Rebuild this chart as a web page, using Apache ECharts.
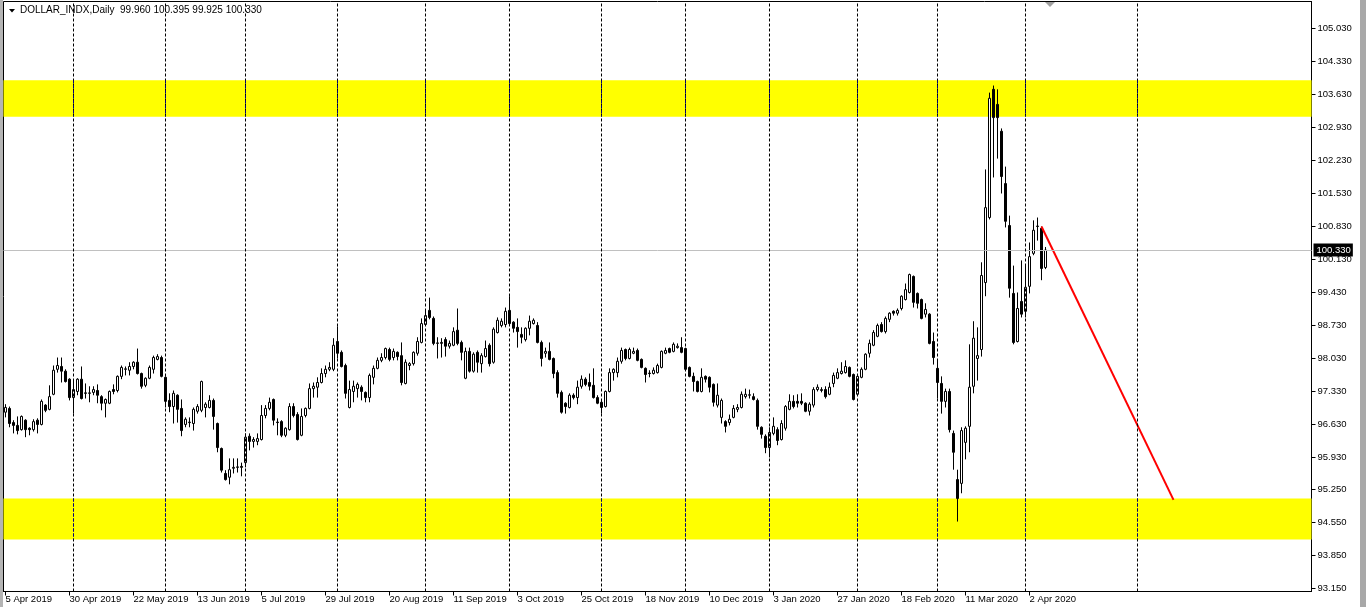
<!DOCTYPE html>
<html><head><meta charset="utf-8">
<script src="https://cdn.jsdelivr.net/npm/echarts@6/dist/echarts.min.js"></script>
<style>html,body{margin:0;padding:0;background:#fff}#c{width:1366px;height:607px}</style>
</head><body><div id="c"></div>
<script>
// ---- data ----
const symbolName = 'DOLLAR_INDX,Daily';
const dateLabels = ['5 Apr 2019','30 Apr 2019','22 May 2019','13 Jun 2019','5 Jul 2019','29 Jul 2019','20 Aug 2019','11 Sep 2019','3 Oct 2019','25 Oct 2019','18 Nov 2019','10 Dec 2019','3 Jan 2020','27 Jan 2020','18 Feb 2020','11 Mar 2020','2 Apr 2020'];
const yTicks = [93.15,93.85,94.55,95.25,95.93,96.63,97.33,98.03,98.73,99.43,100.13,100.83,101.53,102.23,102.93,103.63,104.33,105.03];
const monthStarts = [17,40,60,83,105,126,149,170,191,213,233,255,283];
const zones = [[103.93,103.16],[95.06,94.19]];
const trend = [[259,100.83],[292,95.03]];
const bid = 100.33;

const open = [
96.89,96.97,96.67,96.61,96.52,96.72,96.55,96.52,96.72,96.63,
97.04,96.95,97.27,97.80,97.86,97.76,97.59,97.20,97.33,97.59,
97.30,97.29,97.31,97.35,97.22,97.08,97.08,97.37,97.35,97.65,
97.80,97.78,97.86,97.95,97.71,97.46,97.61,97.80,98.01,98.05,
97.63,97.14,97.01,97.25,96.97,96.63,96.67,96.65,96.91,96.93,
96.99,96.99,97.14,96.65,96.12,95.59,95.51,95.70,95.72,95.74,
95.82,96.38,96.27,96.27,96.31,96.82,96.97,97.16,96.68,96.69,
96.40,96.52,97.01,96.84,96.40,96.82,96.97,97.39,97.42,97.52,
97.71,97.80,97.80,98.39,98.16,97.88,96.99,97.33,97.39,97.42,
97.31,97.20,97.63,97.82,97.99,98.05,98.22,98.05,98.16,98.09,
97.50,97.88,97.92,98.14,98.37,98.75,99.05,98.88,98.35,98.35,
98.43,98.29,98.31,98.63,98.37,97.61,98.18,97.76,98.16,97.92,
98.07,98.31,97.95,98.58,98.73,98.75,99.05,98.80,98.69,98.54,
98.43,98.67,98.77,98.73,98.37,98.14,98.18,98.03,97.73,97.31,
97.08,96.99,97.25,97.20,97.44,97.59,97.52,97.46,97.20,97.10,
97.01,97.33,97.73,97.73,97.97,98.22,98.03,98.14,98.20,98.01,
97.82,97.72,97.71,97.73,97.84,98.14,98.24,98.18,98.26,98.26,
98.24,97.84,97.65,97.54,97.33,97.65,97.63,97.48,97.04,96.78,
96.69,96.67,96.78,96.95,96.99,97.22,97.25,97.22,97.14,96.57,
96.38,96.14,96.44,96.52,96.31,96.55,96.95,97.12,97.12,97.12,
97.08,96.91,97.04,97.37,97.35,97.37,97.27,97.50,97.61,97.71,
97.73,97.84,97.69,97.27,97.63,97.80,98.14,98.31,98.50,98.75,
98.60,98.86,99.03,98.99,99.09,99.28,99.43,99.77,99.41,99.28,
98.97,98.97,98.39,97.82,97.50,97.12,97.33,96.44,95.46,95.38,
96.25,96.59,97.44,98.03,98.22,99.64,101.02,103.74,103.42,102.85,
101.74,100.85,99.41,98.39,99.24,99.03,99.56,100.26,100.83,100.79,
99.96];
const high = [
97.06,97.01,96.72,96.80,96.82,96.74,96.57,96.74,96.76,97.16,
97.06,97.46,97.88,98.05,98.05,97.80,97.61,97.56,97.61,97.86,
97.50,97.44,97.44,97.48,97.25,97.18,97.35,97.48,97.67,97.88,
97.86,97.95,97.97,98.24,97.73,97.63,97.88,98.09,98.12,98.09,
97.65,97.29,97.35,97.27,97.16,96.78,96.78,96.99,97.06,97.56,
97.10,97.25,97.18,96.67,96.14,95.66,95.91,95.91,95.91,95.82,
96.44,96.44,96.36,96.44,97.04,97.04,97.20,97.18,96.76,96.72,
96.57,97.08,97.08,96.89,96.97,96.99,97.50,97.52,97.63,97.82,
97.88,97.95,98.46,98.71,98.20,97.92,97.56,97.56,97.52,97.46,
97.33,97.71,97.88,98.05,98.14,98.26,98.26,98.24,98.18,98.37,
98.01,97.95,98.18,98.48,98.88,99.07,99.32,98.92,98.48,98.46,
98.48,98.41,98.69,99.09,98.41,98.26,98.26,98.16,98.20,98.14,
98.41,98.35,98.69,98.90,98.88,99.11,99.35,98.82,98.88,98.69,
98.69,98.94,98.88,98.80,98.41,98.26,98.37,98.05,97.78,97.35,
97.10,97.29,97.29,97.56,97.67,97.63,97.71,97.82,97.25,97.14,
97.35,97.82,97.82,98.05,98.26,98.24,98.26,98.26,98.24,98.03,
97.84,97.78,97.84,97.92,98.20,98.26,98.26,98.37,98.35,98.48,
98.26,97.86,97.73,97.56,97.82,97.67,97.65,97.50,97.50,97.18,
96.72,96.84,97.04,97.06,97.33,97.39,97.37,97.29,97.18,96.59,
96.42,96.57,96.78,96.57,96.72,97.04,97.27,97.25,97.27,97.29,
97.10,97.10,97.42,97.48,97.42,97.44,97.52,97.73,97.82,97.95,
97.99,97.86,97.71,97.67,97.84,98.14,98.43,98.63,98.77,98.80,
98.92,99.01,99.05,99.09,99.37,99.62,99.83,99.79,99.43,99.30,
99.20,98.99,98.58,97.99,97.65,97.39,97.39,96.50,95.67,96.57,
96.59,98.33,98.82,98.69,100.07,102.04,103.67,103.82,103.74,102.91,
102.10,101.06,100.00,99.43,100.11,100.00,100.49,100.96,101.02,100.83,
100.395];
const low = [
96.78,96.57,96.44,96.42,96.50,96.36,96.40,96.48,96.44,96.61,
96.89,96.93,97.25,97.73,97.52,97.52,97.14,96.86,97.25,97.16,
97.18,97.10,97.25,97.08,96.93,96.78,97.06,97.27,97.31,97.59,
97.67,97.67,97.80,97.69,97.39,97.42,97.59,97.71,97.99,97.63,
96.99,96.89,96.65,96.67,96.38,96.57,96.57,96.50,96.86,96.89,
96.78,96.97,96.52,96.04,95.61,95.44,95.36,95.59,95.61,95.53,
95.72,96.08,96.14,96.19,96.29,96.76,96.93,96.61,96.40,96.36,
96.36,96.50,96.78,96.29,96.38,96.78,96.95,97.20,97.20,97.50,
97.63,97.76,97.76,98.03,97.84,97.18,96.97,97.10,97.20,97.14,
97.10,97.10,97.48,97.80,97.95,98.01,97.97,97.99,97.99,97.46,
97.48,97.78,97.88,98.09,98.35,98.73,98.86,98.31,98.03,98.05,
98.07,98.24,98.29,98.31,97.99,97.59,97.73,97.73,97.73,97.73,
98.05,97.86,97.92,98.56,98.69,98.69,98.75,98.58,98.26,98.35,
98.39,98.52,98.75,98.35,97.86,98.05,97.99,97.61,97.20,96.86,
96.86,96.97,97.16,97.06,97.39,97.44,97.35,97.18,97.06,96.86,
96.99,97.31,97.56,97.63,97.92,97.99,98.01,98.12,97.97,97.82,
97.52,97.63,97.69,97.71,97.82,98.12,98.14,98.16,98.24,98.14,
97.78,97.63,97.33,97.31,97.31,97.52,97.31,97.01,96.99,96.65,
96.46,96.61,96.76,96.89,96.97,97.18,97.18,97.14,96.52,96.33,
96.02,95.93,96.40,96.19,96.29,96.50,96.93,96.97,96.99,97.04,
96.89,96.82,96.99,97.33,97.31,97.18,97.25,97.42,97.59,97.69,
97.71,97.63,97.14,97.25,97.61,97.78,98.05,98.29,98.48,98.58,
98.56,98.80,98.94,98.94,99.05,99.26,99.41,99.11,99.09,98.86,
98.90,98.33,97.90,97.18,96.86,96.99,96.46,95.67,94.57,95.17,
95.89,96.04,97.29,97.56,98.07,99.35,100.98,101.87,102.27,101.53,
100.81,99.32,98.33,98.37,98.90,98.90,99.41,100.22,100.53,99.69,
99.925];
const close = [
96.99,96.65,96.61,96.50,96.80,96.52,96.52,96.69,96.63,97.12,
96.93,97.22,97.78,97.88,97.76,97.54,97.20,97.37,97.59,97.18,
97.29,97.30,97.37,97.25,97.08,97.16,97.33,97.33,97.65,97.84,
97.81,97.86,97.95,97.71,97.44,97.61,97.84,98.05,98.07,97.65,
97.12,97.01,97.29,96.95,96.50,96.74,96.68,96.95,97.01,97.54,
97.06,97.14,96.80,96.14,95.66,95.46,95.67,95.72,95.73,95.72,
96.36,96.27,96.31,96.33,96.82,96.97,97.10,96.72,96.67,96.40,
96.55,97.01,96.82,96.31,96.80,96.97,97.39,97.44,97.52,97.71,
97.80,97.84,98.31,98.14,97.86,97.29,97.37,97.44,97.48,97.33,
97.20,97.67,97.82,97.99,98.05,98.24,98.01,98.18,98.07,97.52,
97.95,97.92,98.16,98.39,98.77,98.94,98.90,98.35,98.36,98.37,
98.29,98.35,98.60,98.35,98.16,98.18,97.76,98.12,97.95,98.09,
98.24,97.92,98.65,98.84,98.82,99.03,98.77,98.67,98.60,98.48,
98.67,98.82,98.84,98.37,98.03,98.18,98.01,97.71,97.29,96.89,
97.01,97.25,97.20,97.42,97.59,97.48,97.44,97.20,97.08,96.99,
97.33,97.73,97.80,97.97,98.20,98.03,98.22,98.18,97.99,97.84,
97.69,97.71,97.78,97.88,98.18,98.20,98.16,98.33,98.29,98.16,
97.80,97.65,97.54,97.33,97.63,97.59,97.42,97.10,97.25,97.14,
96.59,96.74,96.97,96.99,97.27,97.27,97.26,97.16,96.59,96.42,
96.14,96.46,96.59,96.29,96.65,97.01,97.12,97.01,97.08,97.08,
96.91,97.06,97.37,97.42,97.37,97.22,97.42,97.67,97.73,97.76,
97.86,97.65,97.16,97.65,97.80,98.12,98.35,98.58,98.73,98.60,
98.88,98.99,98.99,99.05,99.35,99.49,99.81,99.22,99.20,98.88,
99.07,98.35,98.05,97.52,97.12,97.33,96.52,96.04,95.06,96.50,
96.55,97.42,98.46,98.09,99.79,101.23,103.55,103.14,103.14,101.89,
100.94,99.52,98.37,99.09,98.97,99.54,100.19,100.75,100.84,99.94,
100.33];

// ---- build chart ----
const SLOTS = 327; // bars incl. right shift space
const cats = Array.from({length: SLOTS}, (_, i) => String(i));
const ohlc = open.map((o, i) => [o, close[i], low[i], high[i]]);
const last = open.length - 1;
const header = symbolName + '  ' + [open[last], high[last], low[last], close[last]].map(v => v.toFixed(3)).join(' ');
const isLabelIdx = i => i % 16 === 0 && i / 16 < dateLabels.length;

const bandLines = [];
zones.forEach(z => monthStarts.forEach(m => bandLines.push([{coord: [String(m), z[0]]}, {coord: [String(m), z[1]]}])));

const chart = echarts.init(document.getElementById('c'), null, {renderer: 'canvas'});
chart.setOption({
  animation: false,
  backgroundColor: '#ffffff',
  textStyle: {fontFamily: 'Liberation Sans'},
  grid: {left: 3.5, top: 1.5, width: 1308, height: 590, show: true, borderColor: '#000', borderWidth: 1, backgroundColor: 'transparent'},
  xAxis: {
    type: 'category', data: cats, boundaryGap: true,
    axisLine: {show: true, lineStyle: {color: '#000', width: 1}},
    axisTick: {show: true, alignWithLabel: true, length: 4, interval: (i) => isLabelIdx(i), lineStyle: {color: '#000'}},
    axisLabel: {show: true, interval: (i) => isLabelIdx(i), formatter: (v) => dateLabels[Number(v) / 16] || '',
      align: 'left', margin: 3, color: '#000', fontSize: 9.5, fontFamily: 'Liberation Sans'},
    splitLine: {show: false}
  },
  yAxis: {
    type: 'value', position: 'right', min: 93.086, max: 105.603,
    axisLine: {show: true, lineStyle: {color: '#000', width: 1}},
    axisTick: {show: true, customValues: yTicks, length: 4, lineStyle: {color: '#000'}},
    axisLabel: {show: true, customValues: yTicks, formatter: v => v.toFixed(3), color: '#000', fontSize: 9.5, margin: 6, fontFamily: 'Liberation Sans'},
    splitLine: {show: false}
  },
  series: [
    {
      name: 'zones', type: 'line', data: [], z: 1, silent: true,
      markArea: {silent: true, itemStyle: {color: '#ffff00', opacity: 1}, data: zones.map(z => [{yAxis: z[0]}, {yAxis: z[1]}])},
      markLine: {silent: true, symbol: ['none', 'none'], animation: false,
        lineStyle: {color: '#c0c0c0', width: 1, type: 'solid'},
        label: {show: true, position: 'end', distance: 2, formatter: () => bid.toFixed(3), color: '#fff', backgroundColor: '#000', padding: [2, 2, 1, 3], fontSize: 9.5, fontFamily: 'Liberation Sans'},
        data: [{yAxis: bid}]}
    },
    {
      name: 'grid', type: 'line', data: [], z: 2, silent: true,
      markLine: {silent: true, symbol: ['none', 'none'], animation: false,
        lineStyle: {color: '#000', width: 1, type: [3, 2]}, label: {show: false},
        data: monthStarts.map(i => ({xAxis: String(i)}))}
    },
    {
      name: 'gridInBands', type: 'line', data: [], z: 2.5, silent: true,
      markLine: {silent: true, symbol: ['none', 'none'], animation: false,
        lineStyle: {color: '#000080', width: 1, type: [3, 2]}, label: {show: false},
        data: bandLines}
    },
    {
      name: 'price', type: 'candlestick', z: 3, silent: true, barWidth: 2, data: ohlc,
      itemStyle: {color: '#ffffff', color0: '#000000', borderColor: '#000000', borderColor0: '#000000', borderColorDoji: '#000000', borderWidth: 1}
    },
    {
      name: 'trend', type: 'line', z: 4, silent: true, symbol: 'none',
      data: trend.map(p => [String(p[0]), p[1]]),
      lineStyle: {color: '#ff0000', width: 2}
    }
  ],
  graphic: [
    {type: 'rect', z: 100, shape: {x: 0, y: 0, width: 3, height: 607}, style: {fill: '#b4b4b4'}},
    {type: 'rect', z: 100, shape: {x: 1360, y: 0, width: 6, height: 607}, style: {fill: '#a8a8a8'}},
    {type: 'polygon', z: 100, shape: {points: [[9, 9], [15, 9], [12, 12.5]]}, style: {fill: '#000'}},
    {type: 'polygon', z: 100, shape: {points: [[1045, 2], [1055, 2], [1050, 7]]}, style: {fill: '#a0a0a0'}},
    {type: 'text', z: 100, left: 20, top: 5, style: {text: header, font: '10px "Liberation Sans"', fill: '#000'}}
  ]
});
</script>
</body></html>
